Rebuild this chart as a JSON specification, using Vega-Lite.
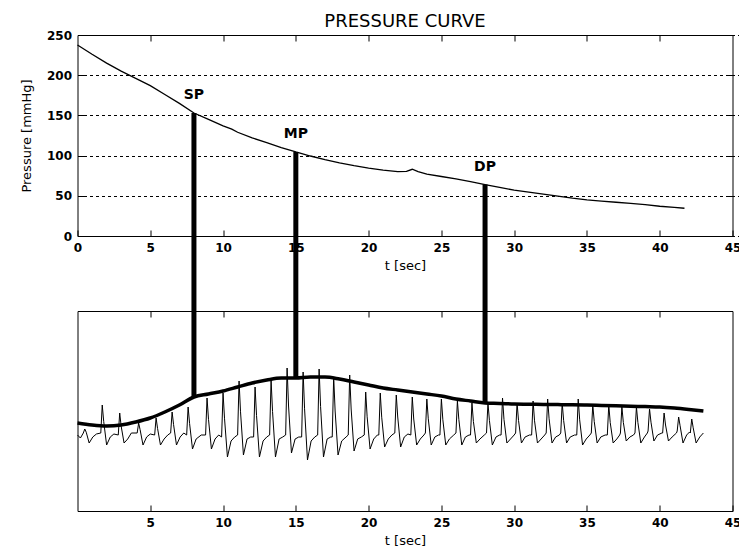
{
  "$schema": "https://vega.github.io/schema/vega-lite/v6.json",
  "background": "white",
  "padding": {"left": 19.5, "top": 12, "right": 0, "bottom": 0},
  "config": {
    "view": {"stroke": "black", "strokeWidth": 1},
    "font": "DejaVu Sans",
    "axis": {
      "domain": false,
      "grid": false,
      "tickColor": "black",
      "tickSize": 6,
      "offset": -6,
      "labelPadding": 6,
      "labelColor": "black",
      "labelFont": "DejaVu Sans",
      "labelFontSize": 12,
      "labelFontWeight": "bold",
      "labelFlush": false,
      "labelOverlap": false,
      "labelBound": false,
      "titleColor": "black",
      "titleFont": "DejaVu Sans",
      "titleFontSize": 13,
      "titleFontWeight": "normal"
    }
  },
  "datasets": {
    "pressure": [
      {"t": 0, "p": 237.6}, {"t": 1, "p": 226}, {"t": 2, "p": 215}, {"t": 3, "p": 205},
      {"t": 4, "p": 196}, {"t": 5, "p": 187}, {"t": 6, "p": 176}, {"t": 7, "p": 165},
      {"t": 8, "p": 153}, {"t": 9, "p": 145}, {"t": 10, "p": 137}, {"t": 10.6, "p": 133},
      {"t": 11, "p": 129}, {"t": 12, "p": 122}, {"t": 13, "p": 116}, {"t": 14, "p": 110},
      {"t": 15, "p": 104.5}, {"t": 16, "p": 99.5}, {"t": 17, "p": 95}, {"t": 18, "p": 91},
      {"t": 19, "p": 87.5}, {"t": 20, "p": 84.5}, {"t": 21, "p": 82}, {"t": 22, "p": 80},
      {"t": 22.6, "p": 80.5}, {"t": 23, "p": 83}, {"t": 23.4, "p": 80}, {"t": 24, "p": 77},
      {"t": 25, "p": 74}, {"t": 26, "p": 71}, {"t": 27, "p": 67.5}, {"t": 28, "p": 64},
      {"t": 29, "p": 60.5}, {"t": 30, "p": 57}, {"t": 31, "p": 54.5}, {"t": 32, "p": 52},
      {"t": 33, "p": 49.5}, {"t": 34, "p": 47}, {"t": 35, "p": 45}, {"t": 36, "p": 43.5},
      {"t": 37, "p": 42}, {"t": 38, "p": 40.5}, {"t": 39, "p": 39}, {"t": 40, "p": 37},
      {"t": 41, "p": 35.5}, {"t": 41.7, "p": 34.5}
    ],
    "markers": [
      {"label": "SP", "t": 8, "p": 153, "link": -200.2},
      {"label": "MP", "t": 15, "p": 104.5, "link": -176.6},
      {"label": "DP", "t": 28, "p": 64, "link": -207.7}
    ],
    "envelope": [
      {"t": 0, "v": 44}, {"t": 1, "v": 43}, {"t": 2, "v": 42.5}, {"t": 3, "v": 43},
      {"t": 4, "v": 44.5}, {"t": 5, "v": 46.5}, {"t": 6, "v": 49.5}, {"t": 7, "v": 53},
      {"t": 8, "v": 57}, {"t": 9, "v": 58.5}, {"t": 10, "v": 60}, {"t": 11, "v": 62},
      {"t": 12, "v": 64}, {"t": 13, "v": 65.5}, {"t": 14, "v": 66.5}, {"t": 15, "v": 66.5},
      {"t": 16, "v": 67}, {"t": 17, "v": 67}, {"t": 18, "v": 66}, {"t": 19, "v": 64.5},
      {"t": 20, "v": 63}, {"t": 21, "v": 61.5}, {"t": 22, "v": 60.5}, {"t": 23, "v": 59.5},
      {"t": 24, "v": 58.5}, {"t": 25, "v": 57.5}, {"t": 26, "v": 56}, {"t": 27, "v": 55},
      {"t": 28, "v": 54}, {"t": 29, "v": 53.8}, {"t": 30, "v": 53.5}, {"t": 31, "v": 53.4},
      {"t": 32, "v": 53.3}, {"t": 33, "v": 53.2}, {"t": 34, "v": 53.1}, {"t": 35, "v": 53},
      {"t": 36, "v": 52.8}, {"t": 37, "v": 52.6}, {"t": 38, "v": 52.4}, {"t": 39, "v": 52.2},
      {"t": 40, "v": 52}, {"t": 41, "v": 51.5}, {"t": 42, "v": 50.8}, {"t": 43, "v": 50}
    ],
    "oscillation": [
      {"t": 0, "v": 38}, {"t": 0.2, "v": 36.5},
      {"t": 0.4, "v": 39}, {"t": 0.5, "v": 41}, {"t": 0.6, "v": 39.4}, {"t": 0.8, "v": 34}, {"t": 1.05, "v": 37}, {"t": 1.3, "v": 38.5},
      {"t": 1.6, "v": 39}, {"t": 1.7, "v": 53}, {"t": 1.8, "v": 44.8}, {"t": 2.0, "v": 33}, {"t": 2.25, "v": 37}, {"t": 2.5, "v": 38.5},
      {"t": 2.8, "v": 38}, {"t": 2.9, "v": 49}, {"t": 3.0, "v": 42.4}, {"t": 3.2, "v": 34}, {"t": 3.45, "v": 36}, {"t": 3.7, "v": 39},
      {"t": 4.1, "v": 39}, {"t": 4.2, "v": 44}, {"t": 4.3, "v": 40.7}, {"t": 4.5, "v": 33}, {"t": 4.75, "v": 37}, {"t": 5.0, "v": 38.5},
      {"t": 5.3, "v": 38}, {"t": 5.4, "v": 46.5}, {"t": 5.5, "v": 41.3}, {"t": 5.7, "v": 33}, {"t": 5.95, "v": 36}, {"t": 6.2, "v": 38},
      {"t": 6.4, "v": 39}, {"t": 6.5, "v": 49.5}, {"t": 6.6, "v": 43.2}, {"t": 6.8, "v": 33}, {"t": 7.05, "v": 37}, {"t": 7.3, "v": 39},
      {"t": 7.5, "v": 38}, {"t": 7.6, "v": 52}, {"t": 7.7, "v": 43.8}, {"t": 7.9, "v": 31}, {"t": 8.15, "v": 36}, {"t": 8.5, "v": 38},
      {"t": 8.8, "v": 38}, {"t": 8.9, "v": 56.5}, {"t": 9.0, "v": 45.8}, {"t": 9.2, "v": 31}, {"t": 9.45, "v": 36}, {"t": 9.7, "v": 38},
      {"t": 9.9, "v": 37}, {"t": 10.0, "v": 59}, {"t": 10.1, "v": 46.4}, {"t": 10.3, "v": 27}, {"t": 10.55, "v": 35}, {"t": 10.8, "v": 37},
      {"t": 11.0, "v": 38}, {"t": 11.1, "v": 65}, {"t": 11.2, "v": 49.6}, {"t": 11.4, "v": 28}, {"t": 11.65, "v": 36}, {"t": 11.9, "v": 37},
      {"t": 12.1, "v": 37}, {"t": 12.2, "v": 62}, {"t": 12.3, "v": 47.7}, {"t": 12.5, "v": 27}, {"t": 12.75, "v": 35}, {"t": 13.0, "v": 37},
      {"t": 13.2, "v": 38}, {"t": 13.3, "v": 65.5}, {"t": 13.4, "v": 49.8}, {"t": 13.6, "v": 27}, {"t": 13.85, "v": 36}, {"t": 14.1, "v": 37},
      {"t": 14.3, "v": 38}, {"t": 14.4, "v": 71.5}, {"t": 14.5, "v": 52.5}, {"t": 14.7, "v": 29}, {"t": 14.95, "v": 36}, {"t": 15.2, "v": 37},
      {"t": 15.4, "v": 37}, {"t": 15.5, "v": 69.5}, {"t": 15.6, "v": 51.1}, {"t": 15.8, "v": 25.5}, {"t": 16.05, "v": 35}, {"t": 16.3, "v": 37},
      {"t": 16.5, "v": 38}, {"t": 16.6, "v": 71}, {"t": 16.7, "v": 52.3}, {"t": 16.9, "v": 27}, {"t": 17.15, "v": 36}, {"t": 17.4, "v": 37},
      {"t": 17.5, "v": 37}, {"t": 17.6, "v": 67}, {"t": 17.7, "v": 50}, {"t": 17.9, "v": 28}, {"t": 18.15, "v": 35}, {"t": 18.45, "v": 37},
      {"t": 18.6, "v": 38}, {"t": 18.7, "v": 68}, {"t": 18.8, "v": 51}, {"t": 19.0, "v": 30}, {"t": 19.25, "v": 36}, {"t": 19.5, "v": 37},
      {"t": 19.7, "v": 38}, {"t": 19.8, "v": 59.5}, {"t": 19.9, "v": 47.1}, {"t": 20.1, "v": 31}, {"t": 20.35, "v": 36}, {"t": 20.6, "v": 38},
      {"t": 20.7, "v": 38}, {"t": 20.8, "v": 59}, {"t": 20.9, "v": 46.9}, {"t": 21.1, "v": 32}, {"t": 21.35, "v": 36}, {"t": 21.6, "v": 38},
      {"t": 21.8, "v": 39}, {"t": 21.9, "v": 58}, {"t": 22.0, "v": 47}, {"t": 22.2, "v": 32}, {"t": 22.45, "v": 37}, {"t": 22.7, "v": 38.5},
      {"t": 22.9, "v": 38}, {"t": 23.0, "v": 57}, {"t": 23.1, "v": 46}, {"t": 23.3, "v": 33}, {"t": 23.55, "v": 36}, {"t": 23.8, "v": 38},
      {"t": 23.9, "v": 39}, {"t": 24.0, "v": 56}, {"t": 24.1, "v": 46.1}, {"t": 24.3, "v": 33}, {"t": 24.55, "v": 37}, {"t": 24.8, "v": 38},
      {"t": 24.9, "v": 38}, {"t": 25.0, "v": 56}, {"t": 25.1, "v": 45.6}, {"t": 25.3, "v": 33}, {"t": 25.55, "v": 36}, {"t": 25.85, "v": 38},
      {"t": 26.0, "v": 39}, {"t": 26.1, "v": 55}, {"t": 26.2, "v": 45.7}, {"t": 26.4, "v": 33}, {"t": 26.65, "v": 37}, {"t": 26.9, "v": 38},
      {"t": 27.0, "v": 38}, {"t": 27.1, "v": 54}, {"t": 27.2, "v": 44.7}, {"t": 27.4, "v": 34}, {"t": 27.65, "v": 36}, {"t": 27.95, "v": 38},
      {"t": 28.1, "v": 39}, {"t": 28.2, "v": 54}, {"t": 28.3, "v": 45.2}, {"t": 28.5, "v": 33}, {"t": 28.75, "v": 37}, {"t": 29.0, "v": 38},
      {"t": 29.1, "v": 38}, {"t": 29.2, "v": 56.5}, {"t": 29.3, "v": 45.8}, {"t": 29.5, "v": 34}, {"t": 29.75, "v": 36}, {"t": 30.0, "v": 38},
      {"t": 30.1, "v": 39}, {"t": 30.2, "v": 54}, {"t": 30.3, "v": 45.2}, {"t": 30.5, "v": 34}, {"t": 30.75, "v": 37}, {"t": 31.05, "v": 38},
      {"t": 31.2, "v": 38}, {"t": 31.3, "v": 55}, {"t": 31.4, "v": 45.1}, {"t": 31.6, "v": 34}, {"t": 31.85, "v": 36}, {"t": 32.1, "v": 38},
      {"t": 32.2, "v": 39}, {"t": 32.3, "v": 56}, {"t": 32.4, "v": 46.1}, {"t": 32.6, "v": 34}, {"t": 32.85, "v": 37}, {"t": 33.1, "v": 38},
      {"t": 33.2, "v": 39}, {"t": 33.3, "v": 54}, {"t": 33.4, "v": 45.2}, {"t": 33.6, "v": 34}, {"t": 33.85, "v": 37}, {"t": 34.15, "v": 38},
      {"t": 34.3, "v": 38}, {"t": 34.4, "v": 56}, {"t": 34.5, "v": 45.6}, {"t": 34.7, "v": 33}, {"t": 34.95, "v": 36}, {"t": 35.2, "v": 38},
      {"t": 35.3, "v": 39}, {"t": 35.4, "v": 53}, {"t": 35.5, "v": 44.8}, {"t": 35.7, "v": 34}, {"t": 35.95, "v": 37}, {"t": 36.25, "v": 38},
      {"t": 36.4, "v": 38}, {"t": 36.5, "v": 53}, {"t": 36.6, "v": 44.2}, {"t": 36.8, "v": 34}, {"t": 37.05, "v": 36}, {"t": 37.25, "v": 38},
      {"t": 37.3, "v": 39}, {"t": 37.4, "v": 52}, {"t": 37.5, "v": 44.3}, {"t": 37.7, "v": 35}, {"t": 37.95, "v": 37}, {"t": 38.2, "v": 38},
      {"t": 38.3, "v": 39}, {"t": 38.4, "v": 52}, {"t": 38.5, "v": 44.3}, {"t": 38.7, "v": 34}, {"t": 38.95, "v": 37}, {"t": 39.15, "v": 39},
      {"t": 39.2, "v": 40}, {"t": 39.3, "v": 51}, {"t": 39.4, "v": 44.4}, {"t": 39.6, "v": 35}, {"t": 39.85, "v": 38}, {"t": 40.15, "v": 39},
      {"t": 40.2, "v": 39}, {"t": 40.3, "v": 49}, {"t": 40.4, "v": 43}, {"t": 40.6, "v": 35}, {"t": 40.85, "v": 37}, {"t": 41.15, "v": 39},
      {"t": 41.2, "v": 40}, {"t": 41.3, "v": 47}, {"t": 41.4, "v": 42.6}, {"t": 41.6, "v": 34}, {"t": 41.85, "v": 38}, {"t": 42.05, "v": 39.5},
      {"t": 42.1, "v": 39}, {"t": 42.2, "v": 46}, {"t": 42.3, "v": 41.6}, {"t": 42.5, "v": 34}, {"t": 42.75, "v": 37}, {"t": 43.0, "v": 39}
    ]
  },
  "vconcat": [
    {
      "width": 655,
      "height": 201,
      "title": {"text": "PRESSURE CURVE", "fontSize": 18, "fontWeight": "normal", "font": "DejaVu Sans", "color": "black", "offset": -2, "frame": "group", "anchor": "middle"},
      "layer": [
        {
          "data": {"name": "pressure"},
          "mark": {"type": "line", "color": "black", "strokeWidth": 1.3},
          "encoding": {
            "x": {"field": "t", "type": "quantitative", "scale": {"domain": [0, 45], "nice": false, "zero": false},
                  "axis": {"values": [0, 5, 10, 15, 20, 25, 30, 35, 40, 45], "title": "t [sec]", "titlePadding": 6}},
            "y": {"field": "p", "type": "quantitative", "scale": {"domain": [0, 250], "nice": false},
                  "axis": {"values": [0, 50, 100, 150, 200, 250], "title": "Pressure [mmHg]", "titlePadding": 13,
                           "grid": true, "gridColor": "black", "gridDash": [3, 3], "gridWidth": 1}}
          }
        },
        {
          "data": {"name": "pressure"},
          "mark": {"type": "line", "opacity": 0},
          "encoding": {
            "x": {"field": "t", "type": "quantitative", "axis": {"orient": "top", "labels": false, "title": null, "values": [5, 10, 15, 20, 25, 30, 35, 40]}},
            "y": {"field": "p", "type": "quantitative", "axis": {"orient": "right", "labels": false, "title": null, "values": [50, 100, 150, 200]}}
          }
        },
        {
          "data": {"name": "markers"},
          "mark": {"type": "rule", "color": "black", "strokeWidth": 5, "clip": false},
          "encoding": {
            "x": {"field": "t", "type": "quantitative", "axis": null},
            "y": {"field": "p", "type": "quantitative", "axis": null},
            "y2": {"field": "link"}
          }
        },
        {
          "data": {"name": "markers"},
          "mark": {"type": "text", "fontSize": 14, "fontWeight": "bold", "font": "DejaVu Sans", "color": "black", "dy": -18, "baseline": "middle", "align": "center"},
          "encoding": {
            "x": {"field": "t", "type": "quantitative", "axis": null},
            "y": {"field": "p", "type": "quantitative", "axis": null},
            "text": {"field": "label"}
          }
        }
      ],
      "resolve": {"axis": {"x": "independent", "y": "independent"}}
    },
    {
      "width": 655,
      "height": 200,
      "layer": [
        {
          "data": {"name": "oscillation"},
          "mark": {"type": "line", "color": "black", "strokeWidth": 1},
          "encoding": {
            "x": {"field": "t", "type": "quantitative", "scale": {"domain": [0, 45], "nice": false, "zero": false},
                  "axis": {"values": [5, 10, 15, 20, 25, 30, 35, 40, 45], "title": "t [sec]", "titlePadding": 6}},
            "y": {"field": "v", "type": "quantitative", "scale": {"domain": [0, 100], "nice": false}, "axis": null}
          }
        },
        {
          "data": {"name": "envelope"},
          "mark": {"type": "line", "color": "black", "strokeWidth": 3.5, "interpolate": "monotone"},
          "encoding": {
            "x": {"field": "t", "type": "quantitative", "axis": {"orient": "top", "labels": false, "title": null, "values": [5, 10, 15, 20, 25, 30, 35, 40]}},
            "y": {"field": "v", "type": "quantitative"}
          }
        }
      ],
      "resolve": {"axis": {"x": "independent"}}
    }
  ],
  "spacing": 75,
  "bounds": "flush"
}
